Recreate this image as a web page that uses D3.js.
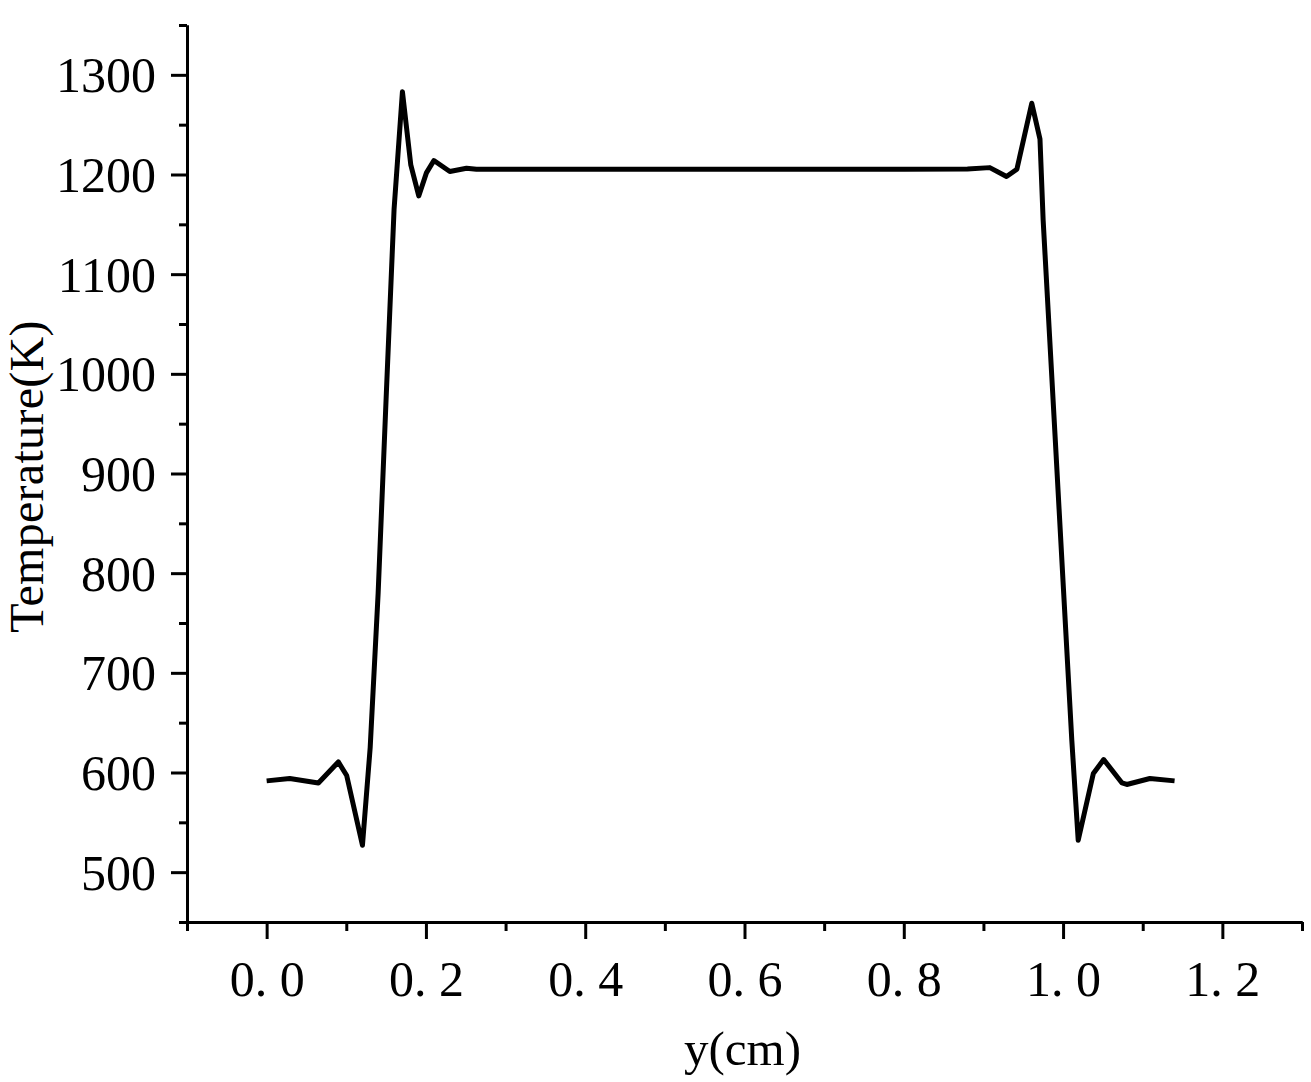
<!DOCTYPE html>
<html>
<head>
<meta charset="utf-8">
<script src="https://cdn.jsdelivr.net/npm/d3@7"></script>
<style>
  html, body { margin: 0; padding: 0; background: #fff; }
  svg { display: block; }
  text { font-family: "Liberation Serif", "DejaVu Serif", serif; fill: #000; }
</style>
</head>
<body>
<svg id="chart" width="1311" height="1082"></svg>
<script>
// ---- data ----
const positions = [0, 0.029, 0.065, 0.090, 0.1005, 0.1203, 0.13, 0.14, 0.15, 0.16, 0.1705,
  0.181, 0.191, 0.2006, 0.210, 0.230, 0.251, 0.2634, 0.40, 0.60, 0.80, 0.88, 0.908, 0.929,
  0.942, 0.9607, 0.971, 0.975, 0.99, 1.0, 1.011, 1.019, 1.038, 1.051, 1.074, 1.080, 1.109, 1.14];
const temperatures = [591.6, 594, 589.5, 610.6, 597, 527, 625, 780, 975, 1165, 1283,
  1209.6, 1178.5, 1201.6, 1214, 1203, 1206.3, 1205.3, 1205.2, 1205.2, 1205.2, 1205.5, 1206.9, 1198,
  1205.3, 1271.5, 1235.5, 1154, 937, 791, 632, 532, 599, 613, 589.5, 588, 594, 591.6];
const xMajorTicks = [0, 0.2, 0.4, 0.6, 0.8, 1.0, 1.2];
const xTickLabels = ["0. 0", "0. 2", "0. 4", "0. 6", "0. 8", "1. 0", "1. 2"];
const xMinorTicks = [-0.1, 0.1, 0.3, 0.5, 0.7, 0.9, 1.1, 1.3];
const yMajorTicks = [500, 600, 700, 800, 900, 1000, 1100, 1200, 1300];
const yTickLabels = ["500", "600", "700", "800", "900", "1000", "1100", "1200", "1300"];
const yMinorTicks = [450, 550, 650, 750, 850, 950, 1050, 1150, 1250, 1350];
const xTitle = "y(cm)";
const yTitle = "Temperature(K)";

// ---- layout ----
const mLeft = 187, mRight = 1302, mTop = 25, mBottom = 922;
const svg = d3.select("#chart");

const x = d3.scaleLinear().domain([-0.1, 1.3]).range([mLeft, mRight]);
const y = d3.scaleLinear().domain([450, 1350]).range([mBottom, mTop]);

// minor ticks
const xMinor = svg.append("g").attr("transform", `translate(0,${mBottom})`)
  .call(d3.axisBottom(x).tickValues(xMinorTicks).tickSize(9).tickSizeOuter(0).tickFormat(""));
const yMinor = svg.append("g").attr("transform", `translate(${mLeft},0)`)
  .call(d3.axisLeft(y).tickValues(yMinorTicks).tickSize(8).tickSizeOuter(0).tickFormat(""));

// major axes
const xAxis = svg.append("g").attr("transform", `translate(0,${mBottom})`)
  .call(d3.axisBottom(x).tickValues(xMajorTicks).tickSize(17).tickSizeOuter(0)
    .tickFormat((d, i) => xTickLabels[i]));
const yAxis = svg.append("g").attr("transform", `translate(${mLeft},0)`)
  .call(d3.axisLeft(y).tickValues(yMajorTicks).tickSize(16).tickSizeOuter(0)
    .tickFormat((d, i) => yTickLabels[i]));

[xMinor, yMinor, xAxis, yAxis].forEach(g => {
  g.selectAll("path.domain").attr("stroke", "#000").attr("stroke-width", 3);
  g.selectAll(".tick line").attr("stroke", "#000").attr("stroke-width", 3);
});

xAxis.selectAll(".tick text")
  .attr("y", 74).attr("dy", 0)
  .style("font-size", "50px").style("font-family", '"Liberation Serif", serif')
  .attr("fill", "#000");
yAxis.selectAll(".tick text")
  .attr("x", -31).attr("dy", "0.34em")
  .style("font-size", "50px").style("font-family", '"Liberation Serif", serif')
  .attr("fill", "#000");

// titles
svg.append("text")
  .attr("x", (mLeft + mRight) / 2 - 2).attr("y", 1065)
  .attr("text-anchor", "middle")
  .style("font-size", "49px")
  .text(xTitle);
svg.append("text")
  .attr("transform", `translate(43,${(mTop + mBottom) / 2 + 3}) rotate(-90)`)
  .attr("text-anchor", "middle")
  .style("font-size", "48px")
  .style("letter-spacing", "0.3px")
  .text(yTitle);

// line
const line = d3.line().x((d, i) => x(positions[i])).y((d, i) => y(temperatures[i]));
svg.append("path")
  .datum(positions)
  .attr("d", line)
  .attr("fill", "none")
  .attr("stroke", "#000")
  .attr("stroke-width", 5)
  .attr("stroke-linejoin", "round")
  .attr("stroke-linecap", "butt");
</script>
</body>
</html>
